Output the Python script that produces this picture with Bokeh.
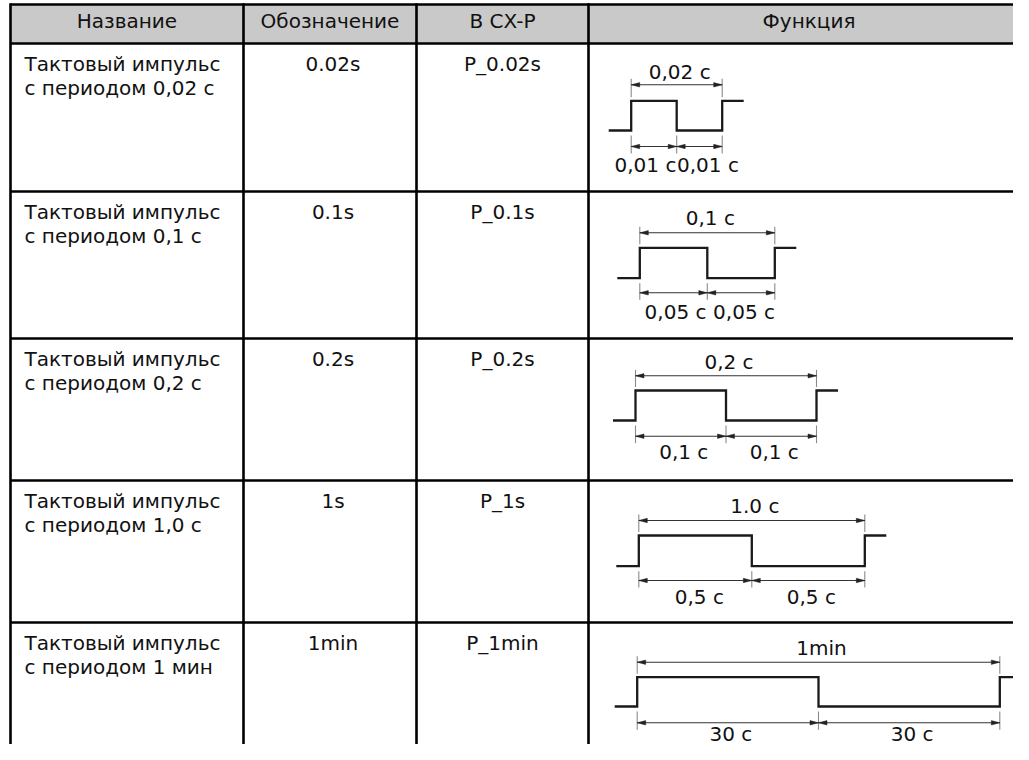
from bokeh.plotting import figure
from bokeh.models import Range1d
from bokeh.embed import file_html
from bokeh.resources import INLINE
from bokeh.core.properties import value

# ---------------- data ----------------
headers = ["Название", "Обозначение", "В CX-P", "Функция"]
name_line1 = ["Тактовый импульс", "Тактовый импульс", "Тактовый импульс",
              "Тактовый импульс", "Тактовый импульс"]
name_line2 = ["с периодом 0,02 с", "с периодом 0,1 с", "с периодом 0,2 с",
              "с периодом 1,0 с", "с периодом 1 мин"]
designations = ["0.02s", "0.1s", "0.2s", "1s", "1min"]
cxp_names = ["P_0.02s", "P_0.1s", "P_0.2s", "P_1s", "P_1min"]
period_labels = ["0,02 с", "0,1 с", "0,2 с", "1.0 с", "1min"]
half_labels = ["0,01 с", "0,05 с", "0,1 с", "0,5 с", "30 с"]

# ---------------- layout (picture pixel coordinates) ----------------
col_edges = [10, 243, 416, 588, 1031]
row_edges = [4, 43, 191, 338, 480, 622, 770]
wave_rise_x = [630.7, 639.3, 635.0, 638.3, 636.7]
wave_period_px = [91.0, 135.0, 181.0, 226.0, 362.6]
lead_px, tail_px = 22.5, 21.5
top_text_y = [71.0, 217.3, 361.3, 505.5, 647.3]
top_dim_y = [84.3, 232.3, 375.3, 520.0, 661.7]
high_y = [100.3, 247.3, 390.0, 535.0, 676.7]
low_y = [130.0, 277.7, 420.0, 565.7, 706.0]
bot_dim_y = [146.0, 292.3, 435.7, 580.0, 722.3]
bot_text_y = [164.5, 311.5, 451.0, 596.0, 733.0]
bot_text_dx = [(-8.5, 8.5), (2, 3), (3, 3), (4, 3), (3, 3)]

FONT = value("DejaVu Sans")
FS = "20px"
TXT = "#111111"

W, H = 1013, 744
p = figure(width=W, height=H, x_range=Range1d(0, W), y_range=Range1d(H, 0),
           toolbar_location=None, output_backend="svg", min_border=0,
           x_axis_location=None, y_axis_location=None,
           background_fill_color="white", border_fill_color="white")
p.grid.visible = False
p.outline_line_color = None

# header background
p.quad(left=[col_edges[0]], right=[col_edges[-1]], top=[row_edges[0]], bottom=[row_edges[1]],
       fill_color="#c9c9c9", line_color=None)

# grid lines
BW = 2.6
hy = row_edges[:-1]
p.segment(x0=[col_edges[0]] * len(hy), y0=hy, x1=[col_edges[-1]] * len(hy), y1=hy,
          line_color="black", line_width=BW)
vx = col_edges[:-1]
p.segment(x0=vx, y0=[row_edges[0] - 1.2] * len(vx), x1=vx, y1=[row_edges[-1]] * len(vx),
          line_color="black", line_width=BW)

# header texts
hx = [(col_edges[i] + col_edges[i + 1]) / 2 for i in range(4)]
hx[3] = (col_edges[3] + 1029) / 2
p.text(x=hx, y=[20.5] * 4, text=headers, text_font=FONT, text_font_size=FS,
       text_align="center", text_baseline="middle", text_color=TXT)

# body texts
n = len(designations)
tops = row_edges[1:1 + n]
l1 = [t + 20.5 for t in tops]
l2 = [t + 44.5 for t in tops]
p.text(x=[24] * n, y=l1, text=name_line1, text_font=FONT, text_font_size=FS,
       text_align="left", text_baseline="middle", text_color=TXT)
p.text(x=[24] * n, y=l2, text=name_line2, text_font=FONT, text_font_size=FS,
       text_align="left", text_baseline="middle", text_color=TXT)
p.text(x=[hx[1] + 3] * n, y=l1, text=designations, text_font=FONT, text_font_size=FS,
       text_align="center", text_baseline="middle", text_color=TXT)
p.text(x=[hx[2]] * n, y=l1, text=cxp_names, text_font=FONT, text_font_size=FS,
       text_align="center", text_baseline="middle", text_color=TXT)

# waveforms and dimensions
AL, AW = 8.5, 2.2
tri_xs, tri_ys = [], []
def head(x, y, d):
    tri_xs.append([x, x - d * AL, x - d * AL])
    tri_ys.append([y, y - AW, y + AW])

ext_x0, ext_y0, ext_x1, ext_y1 = [], [], [], []
dim_x0, dim_y0, dim_x1, dim_y1 = [], [], [], []
lab_x, lab_y, lab_t = [], [], []
for i in range(n):
    r = wave_rise_x[i]
    per = wave_period_px[i]
    f = r + per / 2
    r2 = r + per
    xs = [r - lead_px, r, r, f, f, r2, r2, r2 + tail_px]
    ys = [low_y[i], low_y[i], high_y[i], high_y[i], low_y[i], low_y[i], high_y[i], high_y[i]]
    p.line(xs, ys, line_color="#1a1a1a", line_width=2.3, line_join="miter")
    # top dimension
    dim_x0.append(r); dim_x1.append(r2); dim_y0.append(top_dim_y[i]); dim_y1.append(top_dim_y[i])
    head(r, top_dim_y[i], -1); head(r2, top_dim_y[i], 1)
    for xx in (r, r2):
        ext_x0.append(xx); ext_x1.append(xx)
        ext_y0.append(top_dim_y[i] - 6); ext_y1.append(high_y[i] - 3.5)
    # bottom dimension
    for a, b in ((r, f), (f, r2)):
        dim_x0.append(a); dim_x1.append(b); dim_y0.append(bot_dim_y[i]); dim_y1.append(bot_dim_y[i])
        head(a, bot_dim_y[i], -1); head(b, bot_dim_y[i], 1)
    for xx in (r, f, r2):
        ext_x0.append(xx); ext_x1.append(xx)
        ext_y0.append(low_y[i] + 5); ext_y1.append(bot_dim_y[i] + 7)
    lab_x.append(r + per / 2 + 3); lab_y.append(top_text_y[i]); lab_t.append(period_labels[i])
    lab_x.append((r + f) / 2 + bot_text_dx[i][0]); lab_y.append(bot_text_y[i]); lab_t.append(half_labels[i])
    lab_x.append((f + r2) / 2 + bot_text_dx[i][1]); lab_y.append(bot_text_y[i]); lab_t.append(half_labels[i])

p.segment(x0=ext_x0, y0=ext_y0, x1=ext_x1, y1=ext_y1, line_color="#8a8a8a", line_width=1.1)
p.segment(x0=dim_x0, y0=dim_y0, x1=dim_x1, y1=dim_y1, line_color="#333333", line_width=1.1)
p.patches(tri_xs, tri_ys, fill_color="#222222", line_color="#222222", line_width=0.5)
p.text(x=lab_x, y=lab_y, text=lab_t, text_font=FONT, text_font_size=FS,
       text_align="center", text_baseline="middle", text_color=TXT)

open("out.html", "w").write(file_html(p, INLINE))
